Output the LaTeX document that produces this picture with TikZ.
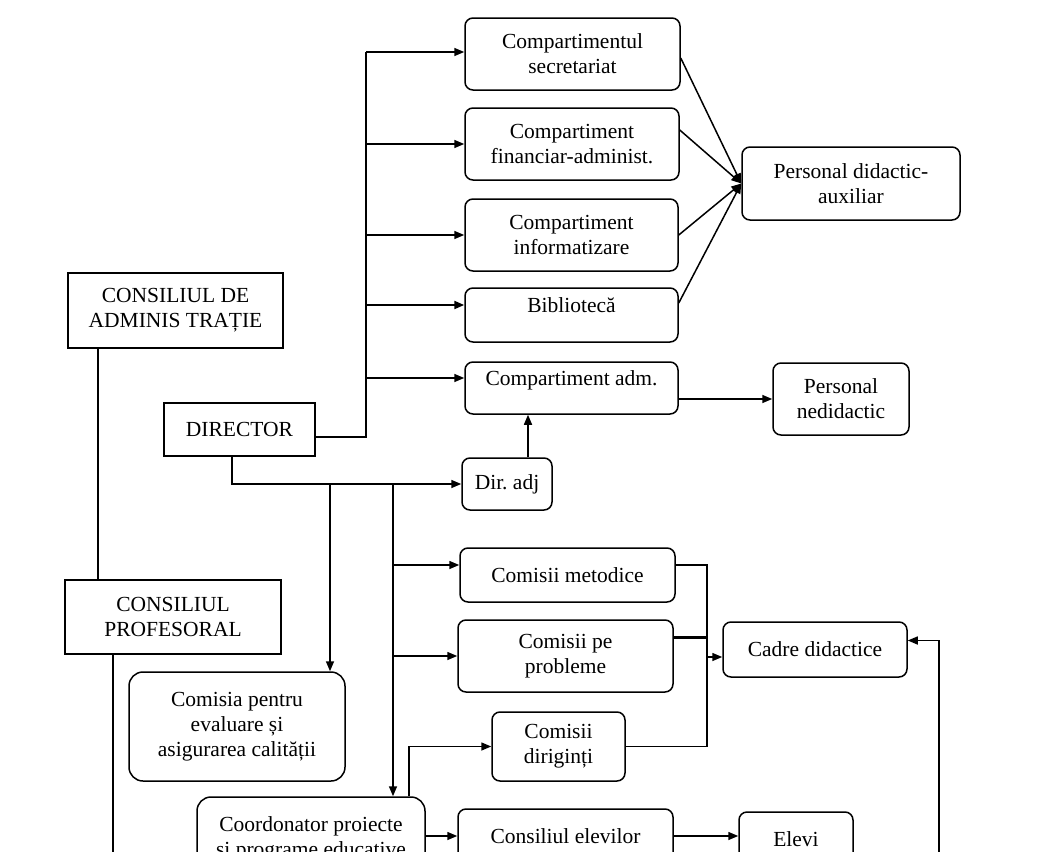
\documentclass[tikz,border=0pt]{standalone}
\usepackage{fontspec}
\setmainfont{Liberation Serif}
\usetikzlibrary{arrows.meta}

\begin{document}
\begin{tikzpicture}[x=1pt, y=-1pt, line width=1.5pt,
    box/.style={draw, rounded corners=8pt, align=center, inner sep=2pt,
                font=\fontsize{21.5}{25}\selectfont},
    sqbox/.style={box, sharp corners},
    wh/.style 2 args={minimum width=#1pt, minimum height=#2pt},
    arr/.style={-{Triangle[length=10pt, width=8pt]}}]
    \useasboundingbox (0,0) rectangle (1042,854);
    \clip (0,0) rectangle (1042,851);

    % compartimente
    \node[box, wh={215}{72}] (sec) at (572.5,54) {Compartimentul\\secretariat};
    \node[box, wh={214}{72}] (fin) at (572,144) {Compartiment\\financiar-administ.};
    \node[box, wh={213}{72}] (inf) at (571.5,235) {Compartiment\\informatizare};
    \node[box, wh={213}{54}, text depth=20pt] (bib) at (571.5,315) {Bibliotecă};
    \node[box, wh={213}{52}, text depth=20pt] (adm) at (571.5,388) {Compartiment adm.};
    \node[box, wh={218}{73}] (pda) at (851,183.5) {Personal didactic-\\auxiliar};
    \node[box, wh={136}{72}] (pnd) at (841,399) {Personal\\nedidactic};
    \node[box, wh={90}{52}] (dadj) at (507,484) {Dir.\ adj};

    % conducere
    \node[sqbox, wh={215}{75}] (ca) at (175.5,310.5) {CONSILIUL DE\\ADMINIS TRAȚIE};
    \node[sqbox, wh={151}{53}] (dir) at (239.5,429.5) {DIRECTOR};
    \node[sqbox, wh={216}{74}] (cp) at (173,617) {CONSILIUL\\PROFESORAL};

    % comisii
    \node[box, wh={215}{54}] (cm) at (567.5,575) {Comisii metodice};
    \node[box, wh={215}{72}] (cpp) at (565.5,656) {Comisii pe\\probleme};
    \node[box, wh={133}{69}] (cd) at (558.5,746.5) {Comisii\\diriginți};
    \node[box, wh={184}{55}] (cdd) at (815,649.5) {Cadre didactice};
    \node[box, rounded corners=14pt, wh={216}{109}] (cev) at (237,726.5) {Comisia pentru\\evaluare și\\asigurarea calității};
    \node[box, rounded corners=14pt, wh={228}{84}] (coord) at (311,839) {Coordonator proiecte\\și programe educative};
    \node[box, wh={215}{54}] (cel) at (565.5,836) {Consiliul elevilor};
    \node[box, wh={114}{54}] (elv) at (796,839) {Elevi};

    % director -> compartimente
    \coordinate (tr) at (366,437);
    \path ([yshift=2pt]sec.west) coordinate (secin)
          ([yshift=10pt]bib.west) coordinate (bibin)
          ([yshift=10pt]adm.west) coordinate (admin);
    \draw (dir.east |- tr) -- (tr) -- (tr |- secin);
    \draw[arr] (tr |- secin) -- (secin);
    \foreach \n in {fin, inf}
        \draw[arr] (tr |- \n.west) -- (\n.west);
    \draw[arr, line width=2.2pt] (tr |- bibin) -- (bibin);
    \draw[arr] (tr |- admin) -- (admin);

    \draw[arr] ([yshift=-4pt]sec.east) -- (pda.west);
    \draw[arr] ([yshift=14pt]fin.east) -- (pda.west);
    \draw[arr] (inf.east) -- (pda.west);
    \draw[arr] ([yshift=12pt]bib.east) -- (pda.west);
    \draw[arr] (pnd.west -| adm.east) -- (pnd.west);
    \path ([xshift=21pt]dadj.north) coordinate (up);
    \draw[arr] (up) -- (up |- adm.south);

    % director -> dir. adj, comisii
    \draw[arr] ([xshift=-7.5pt]dir.south) |- (dadj.west);
    \coordinate (b1) at (330,484);
    \coordinate (b2) at (393,484);
    \draw[arr] (b1) -- (b1 |- cev.north);
    \draw[arr] (b2) -- (b2 |- coord.north);
    \path ([yshift=10pt]cm.west) coordinate (cmin);
    \draw[arr] (b2 |- cmin) -- (cmin);
    \draw[arr] (b2 |- cpp.west) -- (cpp.west);
    \path ([xshift=98pt]coord.north) coordinate (co);
    \draw[arr] (co) |- (cd.west);

    % comisii -> cadre didactice
    \coordinate (m) at (707,657);
    \path ([yshift=10pt]cm.east) coordinate (cmout)
          ([yshift=19pt]cpp.east) coordinate (cppout);
    \draw (cmout) -| (m |- cd.east) -- (cd.east);
    \draw[line width=3pt] (cppout) -- (m |- cppout);
    \draw[arr] (m) -- (m -| cdd.west);

    \draw[arr] (coord.east |- cel.west) -- (cel.west);
    \draw[arr] (cel.east) -- (cel.east -| elv.west);
    \coordinate (rb) at (939,860);
    \path ([yshift=9pt]cdd.east) coordinate (cddin);
    \draw[arr] (rb) |- (cddin);

    % consilii
    \path ([xshift=-77.5pt]ca.south) coordinate (cad)
          ([xshift=-60pt]cp.south) coordinate (cpd);
    \draw (cad) -- (cad |- cp.north);
    \draw (cpd) -- (cpd |- rb);
\end{tikzpicture}
\end{document}
